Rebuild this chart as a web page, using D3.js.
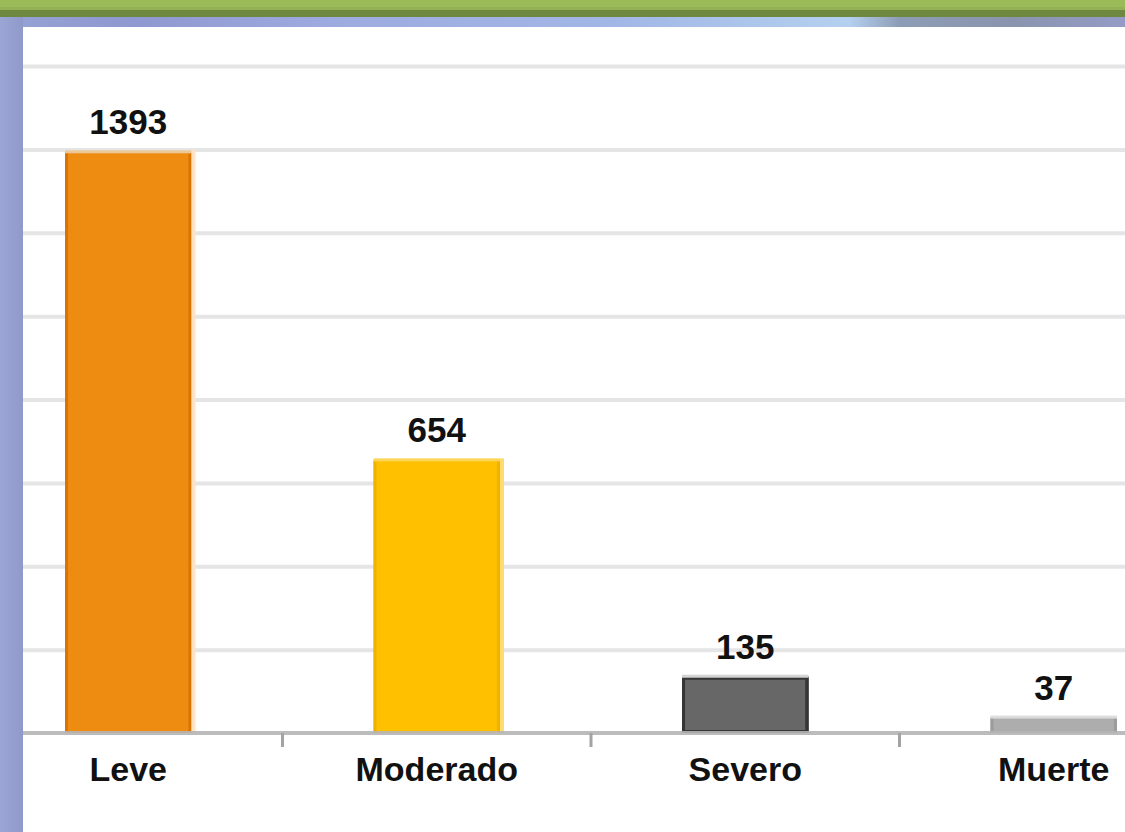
<!DOCTYPE html>
<html>
<head>
<meta charset="utf-8">
<script src="https://cdn.jsdelivr.net/npm/d3@7"></script>
<style>
  html, body { margin: 0; padding: 0; background: #fff; }
  svg { display: block; }
</style>
</head>
<body>
<svg></svg>
<script>
const width = 1125;
const height = 832;

const categories = ["Leve", "Moderado", "Severo", "Muerte"];
const values = [1393, 654, 135, 37];
const gridValues = [200, 400, 600, 800, 1000, 1200, 1400, 1600];

// bar look: fill, side edge, top highlight, outer glow on the right
const fillColors = ["#EE8C12", "#FFC000", "#676767", "#ADADAD"];
const edgeColors = ["#D97304", "#EFB200", "#353535", "#9C9C9C"];
const topColors = ["#EBC896", "#FFD557", "#D4D4D4", "#DCDCDC"];
const glowColors = ["#FFE3C2", "#FFDB70", null, null];

const panelLeft = 23;
const panelTop = 27;

let svg = d3.select("svg").attr("width", width).attr("height", height);
const defs = svg.append("defs");

// frame gradients
const band = defs.append("linearGradient").attr("id", "band");
[
  [0, "#96A2D5"], [0.12, "#8F98D0"], [0.3, "#9EABE0"], [0.55, "#A2B7E6"],
  [0.755, "#B4D0EF"], [0.8, "#8D9CB6"], [0.9, "#8A94AE"], [1, "#959BC6"],
].forEach(([o, c]) => band.append("stop").attr("offset", o).attr("stop-color", c));

const side = defs.append("linearGradient").attr("id", "side");
side.append("stop").attr("offset", 0).attr("stop-color", "#9BA6D4");
side.append("stop").attr("offset", 1).attr("stop-color", "#8F9ACB");

// header bands
svg.append("rect").attr("x", 0).attr("y", 0).attr("width", width).attr("height", 8).attr("fill", "#9BBB59");
svg.append("rect").attr("x", 0).attr("y", 7).attr("width", width).attr("height", 3).attr("fill", "#93B154");
svg.append("rect").attr("x", 0).attr("y", 10).attr("width", width).attr("height", 7).attr("fill", "#6F883F");
svg.append("rect").attr("x", 0).attr("y", 17).attr("width", width).attr("height", 10).attr("fill", "url(#band)");
svg.append("rect").attr("x", 0).attr("y", 17).attr("width", panelLeft).attr("height", height - 17).attr("fill", "url(#side)");
svg.append("rect").attr("x", panelLeft).attr("y", panelTop).attr("width", width - panelLeft).attr("height", height - panelTop).attr("fill", "#fff");

// scales
const x = d3.scaleBand().domain(categories).range([-26, 1208]).padding(0);
const y = d3.scaleLinear().domain([0, 1600]).range([733, 66]);
const barW = x.bandwidth() * 0.41;

// gridlines
const grid = svg.append("g")
  .attr("transform", `translate(${panelLeft},0)`)
  .call(d3.axisLeft(y).tickValues(gridValues).tickSize(-(width - panelLeft)).tickFormat(""));
grid.select(".domain").remove();
grid.selectAll(".tick line").attr("stroke", "#E5E5E5").attr("stroke-width", 4);

const data = categories.map((c, i) => ({ cat: c, value: values[i], i }));

const bars = svg.append("g").selectAll("g").data(data).enter().append("g");
const bx = (d) => x(d.cat) + x.bandwidth() / 2 - barW / 2;

bars.append("rect")
  .attr("x", bx)
  .attr("y", (d) => y(d.value))
  .attr("width", barW)
  .attr("height", (d) => y(0) - y(d.value))
  .attr("fill", (d) => fillColors[d.i]);

// left / right edges
bars.append("rect")
  .attr("x", bx)
  .attr("y", (d) => y(d.value))
  .attr("width", 3)
  .attr("height", (d) => y(0) - y(d.value))
  .attr("fill", (d) => edgeColors[d.i]);
bars.append("rect")
  .attr("x", (d) => bx(d) + barW - 3)
  .attr("y", (d) => y(d.value))
  .attr("width", 3)
  .attr("height", (d) => y(0) - y(d.value))
  .attr("fill", (d) => edgeColors[d.i]);

// dark bar gets a full border
bars.filter((d) => d.cat === "Severo").append("rect")
  .attr("x", (d) => bx(d) + 1.5)
  .attr("y", (d) => y(d.value) + 1.5)
  .attr("width", barW - 3)
  .attr("height", (d) => y(0) - y(d.value) - 3)
  .attr("fill", "none")
  .attr("stroke", (d) => edgeColors[d.i])
  .attr("stroke-width", 3);

// top highlight
bars.append("rect")
  .attr("x", bx)
  .attr("y", (d) => y(d.value) - 2)
  .attr("width", barW)
  .attr("height", 3)
  .attr("fill", (d) => topColors[d.i]);

// right glow
bars.filter((d) => glowColors[d.i]).append("rect")
  .attr("x", (d) => bx(d) + barW)
  .attr("y", (d) => y(d.value) - 2)
  .attr("width", 4)
  .attr("height", (d) => y(0) - y(d.value) + 2)
  .attr("fill", (d) => glowColors[d.i]);

// value labels
bars.append("text")
  .attr("x", (d) => x(d.cat) + x.bandwidth() / 2)
  .attr("y", (d) => y(d.value) - 18)
  .attr("text-anchor", "middle")
  .style("font-family", "'Liberation Sans', Arial, sans-serif")
  .style("font-weight", "bold")
  .style("font-size", "35px")
  .attr("fill", "#111")
  .text((d) => d.value);

// baseline
svg.append("line")
  .attr("x1", panelLeft).attr("x2", width)
  .attr("y1", y(0)).attr("y2", y(0))
  .attr("stroke", "#B5B5B5").attr("stroke-width", 4).attr("opacity", 0.9);

// ticks between categories
svg.append("g").selectAll("line").data(categories.slice(1)).enter().append("line")
  .attr("x1", (d) => x(d)).attr("x2", (d) => x(d))
  .attr("y1", y(0)).attr("y2", y(0) + 14)
  .attr("stroke", "#A3A3A3").attr("stroke-width", 3);

// category labels
const xAxis = svg.append("g")
  .attr("transform", `translate(0,${y(0)})`)
  .call(d3.axisBottom(x).tickSize(0).tickPadding(24));
xAxis.select(".domain").remove();
xAxis.selectAll("text")
  .style("font-family", "'Liberation Sans', Arial, sans-serif")
  .style("font-weight", "bold")
  .style("font-size", "34px")
  .attr("fill", "#111");
</script>
</body>
</html>
